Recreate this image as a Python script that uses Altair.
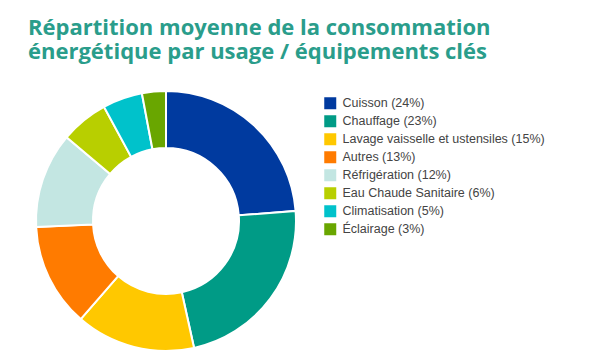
import altair as alt
import pandas as pd

categories = ["Cuisson", "Chauffage", "Lavage vaisselle et ustensiles", "Autres",
              "Réfrigération", "Eau Chaude Sanitaire", "Climatisation", "Éclairage"]
values = [24, 23, 15, 13, 12, 6, 5, 3]
colors = ["#003a9f", "#009b86", "#ffc800", "#ff7b00", "#c3e6e2", "#b8cf00", "#00c2cb", "#69a600"]
title_lines = ["Répartition moyenne de la consommation",
               "énergétique par usage / équipements clés"]

labels = [f"{c} ({v}%)" for c, v in zip(categories, values)]
df = pd.DataFrame({"label": labels, "value": values, "order": list(range(len(values)))})

chart = alt.Chart(df).mark_arc(
    innerRadius=73, outerRadius=130, stroke="white", strokeWidth=2
).encode(
    theta=alt.Theta("value:Q", stack=True),
    order=alt.Order("order:Q"),
    x=alt.value(158),
    y=alt.value(143),
    color=alt.Color(
        "label:N",
        sort=labels,
        scale=alt.Scale(domain=labels, range=colors),
        legend=alt.Legend(
            title=None, orient="none", legendX=316, legendY=19, padding=0,
            symbolType="square", symbolSize=144, symbolStrokeWidth=0,
            labelFont="Liberation Sans", labelFontSize=12.5, labelColor="#444444",
            labelOffset=6, rowPadding=5, labelLimit=400,
        ),
    ),
).properties(
    width=589, height=277,
    padding={"left": 0, "top": 70, "right": 0, "bottom": 0},
    autosize=alt.AutoSizeParams(type="none"),
    title=alt.TitleParams(
        text=title_lines, anchor="start", frame="group", dx=20, offset=14,
        font="Open Sans", fontSize=22, fontWeight="bold", color="#2a9d8b",
        lineHeight=24,
    ),
).configure_view(stroke=None)

chart.save("out.html", embed_options={"renderer": "svg", "actions": False})
